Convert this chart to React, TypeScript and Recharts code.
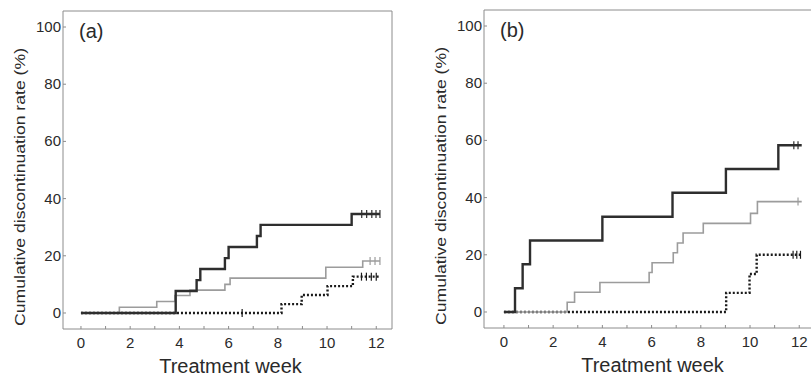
import { ComposedChart, Line, XAxis, YAxis } from 'recharts'

type Pt = { week: number; rate: number }

const pts = (rows: number[][]): Pt[] => rows.map(([week, rate]) => ({ week, rate }))

const weekTicks = [0, 1, 2, 3, 4, 5, 6, 7, 8, 9, 10, 11, 12]
const rateTicks = [0, 20, 40, 60, 80, 100]

// panel (a)
const aSolid = pts([[0, 0], [3.85, 7.7], [4.7, 11.5], [4.85, 15.4], [5.85, 19.2], [6.0, 23.1], [7.15, 26.9], [7.3, 30.8], [11.0, 34.6], [12.15, 34.6]])
const aGray = pts([[0, 0], [1.56, 2.0], [3.08, 4.0], [3.82, 6.1], [4.43, 8.0], [5.85, 10.0], [6.06, 12.2], [9.95, 16.0], [11.45, 18.2], [12.15, 18.2]])
const aDotted = pts([[0, 0], [8.15, 3.1], [8.97, 6.3], [10.02, 9.4], [11.05, 12.7], [12.15, 12.7]])
const aSolidCens = pts([[11.41, 34.6], [11.61, 34.6], [11.82, 34.6], [11.99, 34.6], [12.15, 34.6]])
const aGrayCens = pts([[11.75, 18.2], [11.95, 18.2], [12.15, 18.2]])
const aDottedCens = pts([[6.55, 0], [11.4, 12.7], [11.6, 12.7], [11.8, 12.7], [12.0, 12.7]])

// panel (b)
const bSolid = pts([[0, 0], [0.45, 8.3], [0.76, 16.7], [1.06, 25.0], [4.0, 33.3], [6.85, 41.7], [9.02, 50.0], [11.15, 58.3], [12.1, 58.3]])
const bGray = pts([[0, 0], [2.57, 3.4], [2.87, 6.9], [3.9, 10.3], [5.9, 13.8], [6.02, 17.2], [6.88, 20.7], [7.05, 24.1], [7.28, 27.6], [8.1, 31.0], [10.02, 34.5], [10.3, 38.6], [12.1, 38.6]])
const bDotted = pts([[0, 0], [9.03, 6.7], [9.98, 13.3], [10.27, 20.0], [12.1, 20.0]])
const bSolidCens = pts([[11.78, 58.3], [11.95, 58.3]])
const bGrayCens = pts([[11.95, 38.6]])
const bDottedCens = pts([[11.75, 20], [11.9, 20], [12.05, 20]])

const FONT = '"Liberation Sans", Arial, Helvetica, sans-serif'
const INK = '#2a2a2a'
const FRAME = '#8c8c8c'
const DARK = '#2e2e2e'
const LIGHT = '#9c9c9c'

const XTick = (props: any) => {
  const { x, y, payload } = props
  return (
    <g>
      <line x1={x} y1={y} x2={x} y2={y - 3} stroke={FRAME} strokeWidth={1} />
      {payload.value % 2 === 0 && (
        <text x={x} y={y + 19} textAnchor="middle" fontSize={15} fill={INK} fontFamily={FONT}>
          {payload.value}
        </text>
      )}
    </g>
  )
}

const YTick = (props: any) => {
  const { x, y, payload } = props
  return (
    <g>
      <line x1={x} y1={y} x2={x + 3} y2={y} stroke={FRAME} strokeWidth={1} />
      <text x={x - 2} y={y + 5} textAnchor="end" fontSize={15} fill={INK} fontFamily={FONT}>
        {payload.value}
      </text>
    </g>
  )
}

const censorDot = (color: string) => (p: any) => (
  <line key={`c-${p.index}`} x1={p.cx} y1={p.cy - 4} x2={p.cx} y2={p.cy + 4} stroke={color} strokeWidth={1.2} />
)

interface PanelProps {
  letter: string
  xMin: number
  marginTop: number
  marginRight: number
  solid: Pt[]
  gray: Pt[]
  dotted: Pt[]
  solidCens: Pt[]
  grayCens: Pt[]
  dottedCens: Pt[]
}

function Panel({ letter, xMin, marginTop, marginRight, solid, gray, dotted, solidCens, grayCens, dottedCens }: PanelProps) {
  const xDomain = [xMin, 12.64]
  const yDomain = [-5.6, 105.6]
  return (
    <ComposedChart width={400} height={378} margin={{ top: marginTop - 1, right: marginRight - 1, bottom: 0, left: 0 }}>
      <XAxis
        xAxisId="w"
        dataKey="week"
        type="number"
        domain={xDomain}
        allowDataOverflow
        ticks={weekTicks}
        interval={0}
        height={378 - 329 - (marginTop - 11)}
        axisLine={{ stroke: FRAME }}
        tickLine={false}
        tickSize={0}
        tickMargin={0}
        tick={<XTick />}
        label={(p: any) => (
          <text
            x={p.viewBox.x + p.viewBox.width / 2 + 3}
            y={p.viewBox.y + 44}
            textAnchor="middle"
            fontSize={20}
            fill={INK}
            fontFamily={FONT}
          >
            Treatment week
          </text>
        )}
      />
      <XAxis
        xAxisId="top"
        orientation="top"
        dataKey="week"
        type="number"
        domain={xDomain}
        allowDataOverflow
        height={1}
        axisLine={{ stroke: FRAME }}
        tick={false}
        tickLine={false}
        label={(p: any) => (
          <text x={p.viewBox.x + 16} y={p.viewBox.y + 28} fontSize={20} fill={INK} fontFamily={FONT}>
            {letter}
          </text>
        )}
      />
      <YAxis
        yAxisId="r"
        type="number"
        domain={yDomain}
        allowDataOverflow
        ticks={rateTicks}
        interval={0}
        width={63}
        axisLine={{ stroke: FRAME }}
        tickLine={false}
        tickSize={0}
        tickMargin={0}
        tick={<YTick />}
        label={(p: any) => {
          const cx = p.viewBox.x + 25
          const cy = p.viewBox.y + p.viewBox.height / 2 + 17
          return (
            <text
              x={cx}
              y={cy}
              transform={`rotate(-90 ${cx} ${cy})`}
              textAnchor="middle"
              fontSize={15}
              textLength={278}
              lengthAdjust="spacingAndGlyphs"
              fill={INK}
              fontFamily={FONT}
            >
              Cumulative discontinuation rate (%)
            </text>
          )
        }}
      />
      <YAxis
        yAxisId="right"
        orientation="right"
        type="number"
        domain={yDomain}
        allowDataOverflow
        width={1}
        axisLine={{ stroke: FRAME }}
        tick={false}
        tickLine={false}
      />
      <Line xAxisId="w" yAxisId="r" data={dotted} dataKey="rate" type="stepAfter" stroke="#1a1a1a" strokeWidth={2.4} strokeDasharray="2 2" dot={false} activeDot={false} isAnimationActive={false} />
      <Line xAxisId="w" yAxisId="r" data={gray} dataKey="rate" type="stepAfter" stroke={LIGHT} strokeWidth={1.6} dot={false} activeDot={false} isAnimationActive={false} />
      <Line xAxisId="w" yAxisId="r" data={solid} dataKey="rate" type="stepAfter" stroke={DARK} strokeWidth={2.4} dot={false} activeDot={false} isAnimationActive={false} />
      <Line xAxisId="w" yAxisId="r" data={dottedCens} dataKey="rate" stroke="none" dot={censorDot('#1a1a1a')} activeDot={false} isAnimationActive={false} />
      <Line xAxisId="w" yAxisId="r" data={grayCens} dataKey="rate" stroke="none" dot={censorDot(LIGHT)} activeDot={false} isAnimationActive={false} />
      <Line xAxisId="w" yAxisId="r" data={solidCens} dataKey="rate" stroke="none" dot={censorDot(DARK)} activeDot={false} isAnimationActive={false} />
    </ComposedChart>
  )
}

export default function App() {
  return (
    <div style={{ position: 'fixed', left: 0, top: 0, width: 811, height: 378, overflow: 'hidden', background: '#fff' }}>
      <div style={{ position: 'absolute', left: 0, top: 0 }}>
        <Panel letter="(a)" xMin={-0.73} marginTop={11} marginRight={8} solid={aSolid} gray={aGray} dotted={aDotted} solidCens={aSolidCens} grayCens={aGrayCens} dottedCens={aDottedCens} />
      </div>
      <div style={{ position: 'absolute', left: 421, top: 0 }}>
        <Panel letter="(b)" xMin={-0.81} marginTop={10} marginRight={6} solid={bSolid} gray={bGray} dotted={bDotted} solidCens={bSolidCens} grayCens={bGrayCens} dottedCens={bDottedCens} />
      </div>
    </div>
  )
}
